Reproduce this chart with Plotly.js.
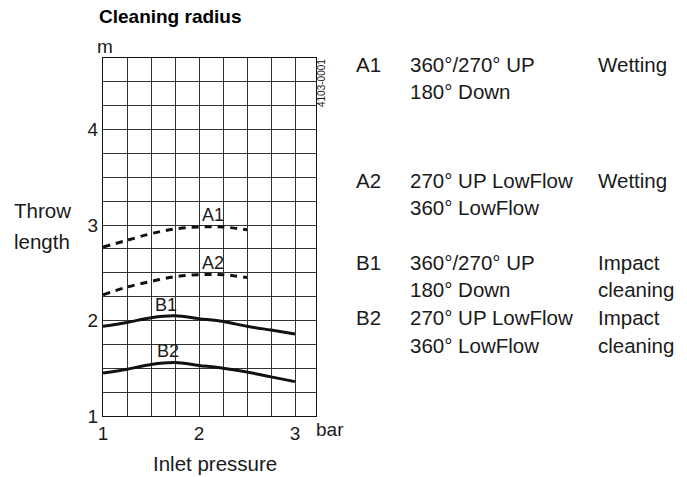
<!DOCTYPE html>
<html>
<head>
<meta charset="utf-8">
<script src="https://cdn.plot.ly/plotly-3.0.1.min.js"></script>
<style>html,body{margin:0;padding:0;background:#fff;}#chart{width:687px;height:477px;}</style>
</head>
<body>
<div id="chart"></div>
<script>
// Data
const pressureA = [1, 1.25, 1.5, 1.75, 2, 2.25, 2.5];
const pressureB = [1, 1.25, 1.5, 1.75, 2, 2.25, 2.5, 2.75, 3];
const throwA1 = [2.77, 2.84, 2.91, 2.96, 2.98, 2.98, 2.95];
const throwA2 = [2.27, 2.35, 2.41, 2.46, 2.48, 2.48, 2.45];
const throwB1 = [1.94, 1.98, 2.03, 2.05, 2.02, 1.99, 1.94, 1.90, 1.86];
const throwB2 = [1.45, 1.49, 1.54, 1.56, 1.53, 1.50, 1.46, 1.41, 1.36];
const curveNames = ["A1", "A2", "B1", "B2"];
const labelX = [2.15, 2.15, 1.66, 1.68];
const labelY = [3.11, 2.60, 2.16, 1.68];
const xTickVals = [1, 1.25, 1.5, 1.75, 2, 2.25, 2.5, 2.75, 3];
const xTickText = ["1", "", "", "", "2", "", "", "", "3"];
const yTickVals = [1, 1.25, 1.5, 1.75, 2, 2.25, 2.5, 2.75, 3, 3.25, 3.5, 3.75, 4, 4.25, 4.5];
const yTickText = ["1", "", "", "", "2", "", "", "", "3", "", "", "", "4", "", ""];
const legendCodes = ["A1", "", "A2", "", "B1", "", "B2", ""];
const legendModels = ["360°/270° UP", "180° Down", "270° UP LowFlow", "360° LowFlow", "360°/270° UP", "180° Down", "270° UP LowFlow", "360° LowFlow"];
const legendUse = ["Wetting", "", "Wetting", "", "Impact", "cleaning", "Impact", "cleaning"];

const FONT = "Liberation Sans, Arial, Helvetica, sans-serif";
const TXT = "#1a1a1a";

const traces = [
  {x: pressureA, y: throwA1, mode: "lines", line: {color: "#111", width: 3, dash: "7px,6px", shape: "spline"}},
  {x: pressureA, y: throwA2, mode: "lines", line: {color: "#111", width: 3, dash: "7px,6px", shape: "spline"}},
  {x: pressureB, y: throwB1, mode: "lines", line: {color: "#111", width: 3, shape: "spline"}},
  {x: pressureB, y: throwB2, mode: "lines", line: {color: "#111", width: 3, shape: "spline"}}
];

// paper coordinate helpers (plot area: x 103..316, y 58..416)
const L = 103, R = 316, T = 58, B = 416;
const px = v => (v - L) / (R - L);
const py = v => (B - v) / (B - T);

const ann = [];
curveNames.forEach((n, i) => ann.push({x: labelX[i], y: labelY[i], xref: "x", yref: "y", text: n, showarrow: false, font: {family: FONT, size: 18, color: TXT}}));
ann.push({x: px(97), y: py(16), xref: "paper", yref: "paper", xanchor: "left", yanchor: "middle", text: "<b>Cleaning radius</b>", showarrow: false, font: {family: FONT, size: 19, color: "#000"}});
ann.push({x: px(105), y: py(47), xref: "paper", yref: "paper", xanchor: "center", yanchor: "middle", text: "m", showarrow: false, font: {family: FONT, size: 19, color: TXT}});
ann.push({x: px(330), y: py(429), xref: "paper", yref: "paper", xanchor: "center", yanchor: "middle", text: "bar", showarrow: false, font: {family: FONT, size: 19, color: TXT}});
ann.push({x: px(215), y: py(463), xref: "paper", yref: "paper", xanchor: "center", yanchor: "middle", text: "Inlet pressure", showarrow: false, font: {family: FONT, size: 20.5, color: TXT}});
ann.push({x: px(12), y: py(210), xref: "paper", yref: "paper", xanchor: "left", yanchor: "middle", text: "Throw", showarrow: false, font: {family: FONT, size: 20.5, color: TXT}});
ann.push({x: px(12), y: py(241), xref: "paper", yref: "paper", xanchor: "left", yanchor: "middle", text: "length", showarrow: false, font: {family: FONT, size: 20.5, color: TXT}});
ann.push({x: px(322), y: py(83), xref: "paper", yref: "paper", xanchor: "center", yanchor: "middle", text: "4103-0001", textangle: -90, showarrow: false, font: {family: FONT, size: 10, color: TXT}});

const rowY = [64, 91, 180, 207, 262, 289, 317, 345];
rowY.forEach((yy, i) => {
  if (legendCodes[i]) ann.push({x: px(354), y: py(yy), xref: "paper", yref: "paper", xanchor: "left", yanchor: "middle", text: legendCodes[i], showarrow: false, font: {family: FONT, size: 20.5, color: TXT}});
  if (legendModels[i]) ann.push({x: px(408), y: py(yy), xref: "paper", yref: "paper", xanchor: "left", yanchor: "middle", text: legendModels[i], showarrow: false, font: {family: FONT, size: 20.5, color: TXT}});
  if (legendUse[i]) ann.push({x: px(596), y: py(yy), xref: "paper", yref: "paper", xanchor: "left", yanchor: "middle", text: legendUse[i], showarrow: false, font: {family: FONT, size: 20.5, color: TXT}});
});

const layout = {
  width: 687, height: 477,
  margin: {l: L, r: 687 - R, t: T, b: 477 - B, pad: 0},
  paper_bgcolor: "#fff", plot_bgcolor: "#fff",
  showlegend: false,
  font: {family: FONT, size: 18, color: TXT},
  xaxis: {range: [1, 1 + (R - L) / 96], tickmode: "array", tickvals: xTickVals, ticktext: xTickText,
    showgrid: true, gridcolor: "#333", gridwidth: 1, zeroline: false, showline: true, mirror: true,
    linecolor: "#111", linewidth: 1, ticks: "", tickfont: {family: FONT, size: 19, color: TXT}, fixedrange: true},
  yaxis: {range: [1, 4.75], tickmode: "array", tickvals: yTickVals, ticktext: yTickText,
    showgrid: true, gridcolor: "#333", gridwidth: 1, zeroline: false, showline: true, mirror: true,
    linecolor: "#111", linewidth: 1, ticks: "", tickfont: {family: FONT, size: 19, color: TXT}, fixedrange: true},
  annotations: ann
};

Plotly.newPlot("chart", traces, layout, {staticPlot: true, displayModeBar: false});
</script>
</body>
</html>
